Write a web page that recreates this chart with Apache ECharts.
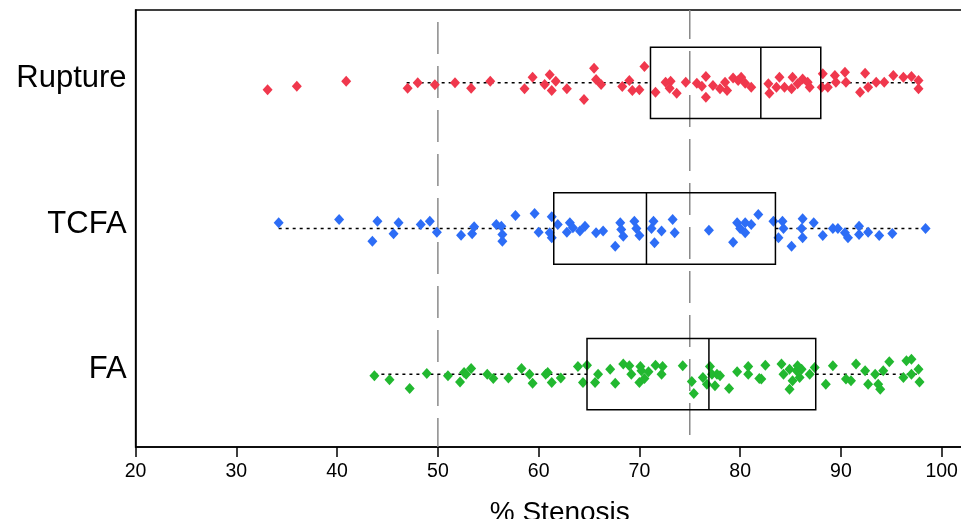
<!DOCTYPE html>
<html>
<head>
<meta charset="utf-8">
<script src="https://cdn.jsdelivr.net/npm/echarts@6/dist/echarts.min.js"></script>
<style>
html,body{margin:0;padding:0;background:#fff;}
#chart{width:961px;height:519px;}
</style>
</head>
<body>
<div id="chart"></div>
<script>
// Categories (bottom to top)
const categories = ['FA', 'TCFA', 'Rupture'];
const xTicks = [20, 30, 40, 50, 60, 70, 80, 90, 100];
const refLines = [50, 75];

// Points: [% stenosis, vertical jitter]
const rupturePts = [
[33.1,-0.048],[36.0,-0.023],[40.9,0.011],[47.0,-0.037],[48.0,0.0],[49.7,-0.014],[51.7,0.0],[53.3,-0.037],[55.2,0.011],
[58.6,-0.041],[59.4,0.038],[60.6,-0.012],[61.1,0.055],[61.7,0.011],[61.3,-0.053],[62.8,-0.041],[64.5,-0.115],[65.5,0.1],[65.7,0.023],[66.2,-0.012],[68.3,-0.025],[69.0,0.016],[69.3,-0.053],[70.0,-0.048],[70.5,0.112],[71.6,-0.064],[72.6,0.004],[73.1,0.011],[73.0,-0.037],[73.7,-0.071],[74.6,0.004],[75.7,-0.003],[76.2,-0.023],[76.6,0.043],[76.6,-0.099],[77.3,-0.019],[78.0,-0.041],[78.5,0.004],[78.7,-0.053],[79.3,0.034],[79.8,0.016],
[80.1,0.038],[80.5,-0.003],[81.1,-0.03],[82.8,-0.007],[82.9,-0.071],[83.9,0.038],[83.6,-0.03],[84.4,-0.03],[85.1,-0.041],[85.2,0.038],[85.7,-0.007],[86.2,0.027],[86.7,0.004],[86.9,-0.03],[88.1,-0.03],[88.2,0.062],[88.7,-0.03],[89.4,0.05],[89.5,0.004],[90.4,0.073],[90.5,0.004],[91.9,-0.064],[92.4,0.066],[92.7,-0.03],[93.5,0.004],[94.3,0.004],[95.2,0.05],[96.2,0.038],[97.0,0.043],[97.7,0.016],[97.7,-0.041]
];
const tcfaPts = [
[34.2,0.039],[40.2,0.062],[44.0,0.05],[43.5,-0.087],[45.6,-0.036],[46.1,0.039],[48.3,0.027],[49.2,0.05],[49.9,-0.025],[52.3,-0.046],[53.4,-0.036],[53.6,0.012],[55.8,0.027],[56.4,-0.041],[56.4,-0.087],[56.3,0.016],
[57.7,0.089],[59.6,0.103],[60.0,-0.025],[61.3,0.08],[61.1,-0.03],[61.3,-0.064],[61.9,0.027],[62.8,-0.025],[63.1,0.039],[63.4,0.005],[64.1,-0.018],[64.6,0.016],[65.7,-0.03],[66.4,-0.018],[67.6,-0.121],[68.1,0.039],[68.2,-0.007],[68.4,-0.053],[69.5,0.05],[69.7,0.0],[70.0,-0.048],[71.4,0.05],[71.2,0.0],[71.5,-0.098],[72.2,-0.018],[73.3,0.062],[73.5,-0.03],[76.9,-0.012],[79.3,-0.094],[79.7,0.039],[80.0,0.0],[80.5,0.039],
[80.5,-0.03],[81.1,0.027],[81.8,0.096],[83.3,0.05],[83.8,-0.064],[84.2,0.05],[84.3,0.0],[85.1,-0.121],[86.2,0.067],[86.1,0.0],[86.2,-0.064],[87.3,0.039],[88.2,-0.048],[89.2,0.0],[89.7,0.0],[90.4,-0.03],[90.7,-0.064],[91.8,0.016],[91.8,-0.041],[92.7,-0.025],[93.8,-0.048],[95.1,-0.034],[98.4,0.0]
];
const faPts = [
[43.7,-0.011],[45.2,-0.039],[47.2,-0.098],[48.9,0.005],[51.0,-0.011],[52.2,-0.053],[52.6,0.012],[52.8,0.0],[53.3,0.039],[54.9,0.0],[55.5,-0.029],[57.0,-0.027],[58.3,0.039],[59.1,0.0],[59.4,-0.062],[60.7,0.0],[60.9,0.012],[61.3,-0.057],[62.2,-0.027],[63.9,0.053],[64.8,0.062],[64.4,-0.057],[65.6,-0.057],
[65.9,0.0],[67.1,0.034],[67.6,-0.062],[68.4,0.069],[69.0,0.057],[69.2,0.0],[70.1,0.053],[70.0,-0.057],[70.5,-0.03],[70.2,0.023],[70.9,0.016],[71.6,0.062],[72.2,0.0],[72.3,0.053],[74.3,0.057],[75.2,-0.05],[75.4,-0.133],[76.3,-0.023],[77.0,0.053],[77.2,0.0],[76.7,-0.069],[77.5,-0.08],[77.7,0.0],[78.0,-0.011],[78.9,-0.098],[79.7,0.016],[80.8,0.053],[80.8,0.0],[81.9,-0.03],[82.5,0.062],
[82.1,-0.034],[84.1,0.069],[84.3,0.0],[84.9,0.034],[84.9,-0.103],[85.2,-0.046],[85.6,0.023],[85.9,-0.023],[85.7,0.057],[86.1,0.034],[86.9,0.0],[87.4,0.046],[88.5,-0.069],[89.2,0.057],[90.5,-0.034],[91.0,-0.046],[91.5,0.069],[92.4,0.023],[92.7,-0.069],[93.4,0.0],[93.7,-0.069],[93.9,-0.103],[94.2,0.023],[94.8,0.085],[96.2,-0.023],[96.5,0.092],[97.0,0.103],[97.0,0.0],[97.7,0.034],[97.8,-0.053]
];

// Box stats: [whisker low, Q1, median, Q3, whisker high]
const faBox = [43.7, 64.8, 76.9, 87.5, 97.8];
const tcfaBox = [34.2, 61.5, 70.7, 83.5, 98.4];
const ruptureBox = [46.9, 71.1, 82.05, 88.0, 97.7];

const groupPts = [faPts, tcfaPts, rupturePts];
const groupBox = [faBox, tcfaBox, ruptureBox];
const colors = ['#22B830', '#2D6DF6', '#F0384D'];
const BOX_HALF = 0.245;

const chart = echarts.init(document.getElementById('chart'), null, {renderer: 'canvas'});

const scatterSeries = groupPts.map((pts, i) => ({
  type: 'scatter',
  z: 3,
  symbol: 'diamond',
  symbolSize: [10, 11],
  itemStyle: {color: colors[i], opacity: 1},
  silent: true,
  data: pts.map(p => [p[0], i + 1 + p[1]])
}));

const boxData = groupBox.map((b, i) => [i + 1].concat(b));

const option = {
  animation: false,
  backgroundColor: '#fff',
  grid: {
    left: 135.6, top: 10, bottom: 72, right: -23,
    outerBoundsMode: 'none', containLabel: false,
    show: true, borderColor: '#000', borderWidth: 1.5, backgroundColor: 'transparent'
  },
  xAxis: {
    type: 'value', min: 20, max: 104.2, interval: 10,
    name: '% Stenosis', nameLocation: 'middle', nameGap: 52,
    nameTextStyle: {fontFamily: 'Liberation Sans', fontSize: 28, color: '#000'},
    axisLine: {show: true, lineStyle: {color: '#000', width: 1.5}},
    axisTick: {show: true, length: 10, lineStyle: {color: '#000', width: 1.5}},
    axisLabel: {
      showMaxLabel: false, margin: 15,
      fontFamily: 'Liberation Sans', fontSize: 19.5, color: '#000',
      formatter: v => xTicks.indexOf(v) >= 0 ? String(v) : ''
    },
    splitLine: {show: false}
  },
  yAxis: {
    type: 'value', min: 0.5, max: 3.5, interval: 0.5,
    axisLine: {show: true, lineStyle: {color: '#000', width: 1.5}},
    axisTick: {show: false},
    splitLine: {show: false},
    axisLabel: {
      margin: 9, fontFamily: 'Liberation Sans', fontSize: 31, color: '#000',
      verticalAlign: 'bottom', lineHeight: 9,
      formatter: v => (Number.isInteger(v) && v >= 1 && v <= 3) ? categories[v - 1] : ''
    }
  },
  series: [
    {
      type: 'line', z: 1, silent: true, symbol: 'none',
      data: [[refLines[0], 3.5], [refLines[0], 0.5]],
      lineStyle: {color: '#8a8a8a', width: 1.5, type: [32, 12], dashOffset: 32}
    },
    {
      type: 'line', z: 1, silent: true, symbol: 'none',
      data: [[refLines[1], 3.5], [refLines[1], 0.5]],
      lineStyle: {color: '#8a8a8a', width: 1.5, type: [32, 12], dashOffset: 3}
    },
    {
      type: 'custom', z: 2, silent: true,
      encode: {x: [1, 2, 3, 4, 5], y: 0},
      data: boxData,
      renderItem: function (params, api) {
        const y = api.value(0);
        const a = api.coord([api.value(1), y]);
        const b = api.coord([api.value(2), y]);
        const c = api.coord([api.value(4), y]);
        const d = api.coord([api.value(5), y]);
        const st = {stroke: '#000', lineWidth: 1.5, lineDash: [3, 4]};
        return {type: 'group', children: [
          {type: 'line', shape: {x1: a[0], y1: a[1], x2: b[0], y2: b[1]}, style: st},
          {type: 'line', shape: {x1: c[0], y1: c[1], x2: d[0], y2: d[1]}, style: st}
        ]};
      }
    }
  ].concat(scatterSeries).concat([
    {
      type: 'custom', z: 4, silent: true,
      encode: {x: [1, 2, 3, 4, 5], y: 0},
      data: boxData,
      renderItem: function (params, api) {
        const y = api.value(0);
        const p1 = api.coord([api.value(2), y + BOX_HALF]);
        const p3 = api.coord([api.value(4), y - BOX_HALF]);
        const mt = api.coord([api.value(3), y + BOX_HALF]);
        const mb = api.coord([api.value(3), y - BOX_HALF]);
        return {type: 'group', children: [
          {type: 'rect', shape: {x: p1[0], y: p1[1], width: p3[0] - p1[0], height: p3[1] - p1[1]},
           style: {fill: 'none', stroke: '#000', lineWidth: 1.5}},
          {type: 'line', shape: {x1: mt[0], y1: mt[1], x2: mb[0], y2: mb[1]},
           style: {stroke: '#000', lineWidth: 1.5}}
        ]};
      }
    }
  ])
};
chart.setOption(option);
</script>
</body>
</html>
